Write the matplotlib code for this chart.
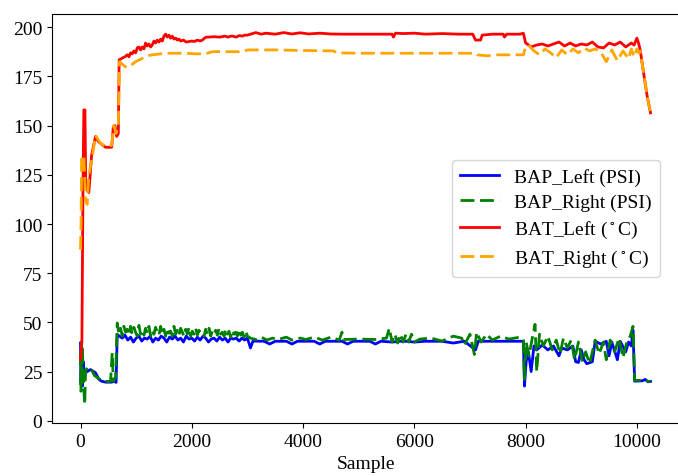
import matplotlib
matplotlib.use("Agg")
import matplotlib.pyplot as plt

plt.rcParams["font.family"] = ["Liberation Serif", "DejaVu Serif"]
plt.rcParams["font.size"] = 14
plt.rcParams["mathtext.fontset"] = "stix"

# BAT_Left (red), sample index / value pairs
bat_left_x = [0, 25, 45, 60, 80, 95, 150, 200, 270, 320, 360, 450, 560, 590, 620, 650, 680,
              695, 730, 760, 800, 840, 870, 900, 930, 960, 990, 1020, 1050, 1080, 1110, 1140,
              1170, 1200, 1230, 1260, 1290, 1320, 1350, 1380, 1410, 1440, 1470, 1500, 1530, 1560,
              1590, 1620, 1650, 1680, 1710, 1740, 1770, 1800, 1850, 1900, 1940, 2000, 2050, 2100,
              2150, 2190, 2230, 2260, 2300, 2400, 2500, 2600, 2650, 2700, 2730, 2800, 2850, 2910,
              2950, 3000,
              3150, 3250, 3330, 3500, 3650, 3800, 3950, 4100, 4300, 4500, 4700, 5000, 5300, 5600,
              5625, 5660, 5800, 6000, 6200, 6500, 6800, 7050, 7100, 7190, 7220, 7400, 7600, 7620,
              7660, 7900, 7960, 8000, 8030, 8100, 8200, 8300, 8400, 8500, 8600, 8700, 8800, 8900,
              9000, 9100, 9200, 9300, 9400, 9500, 9600, 9700, 9800, 9900, 9950, 10000, 10030,
              10060, 10120, 10185, 10245]
bat_left_y = [31, 40, 120, 158, 158, 118, 116, 135, 144.5, 142, 141, 139, 139, 149.5, 150, 144.5,
              146,
              183.5, 184, 184.5, 185, 186, 185, 187, 186.5, 188, 187, 189.5, 190, 188.5, 190, 189,
              192, 190.5, 191.5, 190, 191, 193, 192, 193.5, 192.5, 194, 193, 195.5, 196.5, 195,
              196, 194.5, 195.5, 194, 194.5, 193.5, 194, 193, 193.5, 192.5, 192.7, 193, 192.8,
              193.5, 193, 193.5, 194.5, 195, 195, 195.2, 195, 195.5, 195, 195.5, 195.5, 195,
              195.8, 195.5, 196, 196,
              197.3, 196.5, 197, 196.5, 197.3, 196.6, 197.2, 196.6, 197, 196.6, 196.5, 196.5,
              196.5, 196.5, 195, 197, 196.8, 197, 196.5, 196.8, 196.5, 196.5, 193.5, 193.5, 196,
              196.5, 196.5, 195, 196.5, 196.5, 197, 192, 191.5, 190, 191, 191.5, 190.5, 191.5,
              192.5, 190.5, 192, 190.5, 191.5, 191, 192.5, 190, 189.5, 192, 191, 192.5, 190, 192,
              191, 194.5, 192, 188.5, 177, 165, 156.5]

# BAT_Right (orange)
bat_right_x = [0, 10, 20, 35, 60, 90, 120, 150, 200, 270, 360, 450, 560, 600, 640, 680, 700, 760,
               830, 900, 990, 1100, 1200, 1290, 1450, 1590, 1890, 2070, 2250, 2370, 2850, 3020,
               3330, 3500, 4000, 4550, 4600, 5000, 5600, 6000, 6500, 7100, 7130, 7300, 7500, 7960,
               8000, 8050, 8150, 8250, 8350, 8450, 8550, 8650, 8750, 8850, 8950, 9050, 9150, 9250,
               9350, 9450, 9550, 9650, 9750, 9850, 9900, 9950, 10000, 10030, 10060, 10120, 10185,
               10245]
bat_right_y = [87, 100, 133, 128, 135, 112, 110, 125, 132, 145, 141, 139.5, 140, 150, 146, 150,
               182.5, 181, 179.5, 180.5, 182.5, 184, 185.5, 186, 186.5, 186.8, 186.8, 186.5, 186.5,
               187.6, 187.6, 188.5, 188.5, 188.5, 188.2, 188, 187, 186.8, 186.8, 186.8, 186.8,
               186.8, 186, 185.5, 186, 186, 190, 191, 188, 186, 189, 187, 184.5, 188.5, 186, 189,
               187, 189.5, 188, 189, 187.5, 182.5, 188.5, 183, 188, 184, 189, 185, 189, 187, 188,
               177, 165, 156.5]

# BAP_Left (blue)
bap_left_x = [0, 10, 20, 35, 50, 70, 90, 120, 180, 270, 330, 380, 450, 560, 600, 640,
              660, 700, 750, 800, 850, 900, 950, 1000, 1050, 1100, 1150, 1200, 1250, 1300, 1350,
              1400, 1450, 1500, 1550, 1600, 1650, 1700, 1750, 1800, 1850, 1900, 1950, 2000, 2050,
              2100, 2150, 2200, 2250, 2300, 2350, 2400, 2450, 2500, 2550, 2600, 2650, 2700, 2750,
              2800, 2850, 2900, 2950, 3000,
              3055, 3100, 3300, 3400, 3500, 3700, 3800, 3900, 4200, 4300, 4400, 4700, 4800, 4900,
              5200, 5300, 5400, 5600, 5800, 6000, 6200, 6500, 6700, 6900, 7100, 7150, 7400, 7600,
              7960, 7980, 8010, 8050, 8100, 8150, 8200, 8300, 8400, 8500, 8600, 8650, 8750, 8850,
              8900, 8950, 9000, 9050, 9100, 9200, 9250, 9350, 9450, 9500, 9550, 9650, 9700, 9800,
              9850, 9900, 9930, 9960, 10100, 10150, 10200, 10245]
bap_left_y = [39.5, 20, 36, 17.6, 30, 22, 24.4, 25, 26, 24.4, 21, 20.1, 19.6, 19.6, 20, 19.5,
              43.8, 43, 42, 43.5, 41, 42.5, 40, 42, 43, 40.5, 42, 41.5, 43, 40, 42, 41, 43, 42,
              40, 42.5, 41.5, 43, 41, 42, 40, 43, 41.5, 42, 40.5, 42.5, 41, 43, 42, 40, 41.5, 42,
              40.5, 42.5, 41, 42, 40, 42, 41.5, 42, 40.5, 42, 41, 42,
              37, 40.5, 40.4, 39, 40.4, 40.4, 39, 40.4, 40.4, 39, 40.4, 40.4, 39, 40.4, 40.4, 39,
              40.4, 40, 40.5, 40, 40.4, 40.4, 39.5, 40.4, 36, 40.4, 40.4, 40.4, 40.4, 17.6, 30,
              35, 25, 38, 36, 38.5, 36, 38, 33, 37, 36, 38, 30, 29.6, 36, 31, 29, 30, 40.4, 39,
              40.4, 33, 40, 31, 40.4, 35, 40, 38, 46, 20.1, 20.3, 21, 19.8, 20]

# BAP_Right (green)
bap_right_x = [0, 8, 15, 25, 35, 50, 77, 90, 120, 180, 250, 300, 380, 450, 540, 570, 590, 630,
               660, 690, 720, 750, 780, 810, 840, 870, 900, 930, 960, 990, 1020, 1050, 1080, 1110,
               1140, 1170, 1200, 1230, 1260, 1290, 1320, 1350, 1380, 1410, 1440, 1470, 1500, 1530,
               1560, 1590, 1620, 1650, 1680, 1710, 1740, 1770, 1800, 1830, 1860, 1890, 1920, 1950,
               1980, 2010, 2040, 2070, 2100, 2130, 2160, 2190, 2220, 2250, 2280, 2310, 2340, 2370,
               2400, 2430, 2460, 2490, 2520, 2550, 2580, 2610, 2640, 2670, 2700, 2730, 2760, 2790,
               2820, 2850, 2880, 2910, 2940, 2970, 3000,
               3055, 3150, 3250, 3350, 3450, 3550, 3700, 3800, 3950, 4050, 4200, 4350,
               4500, 4650, 4700, 4720, 5000, 5300, 5500, 5550, 5600, 5650, 5700, 5750, 5800, 5850,
               5900, 5950, 6000, 6100, 6300, 6500, 6700, 6850, 6900, 7000, 7080, 7120, 7200, 7300,
               7400, 7550, 7700, 7900, 7960, 7980, 8010, 8060, 8120, 8170, 8200, 8250, 8320, 8400,
               8480, 8550, 8620, 8680, 8750, 8820, 8880, 8950, 9020, 9080, 9150, 9250, 9320, 9400,
               9450, 9520, 9600, 9680, 9750, 9820, 9880, 9930, 9960, 10050, 10120, 10200, 10245]
bap_right_y = [35, 15, 40, 18, 38, 20, 8.3, 25, 27, 27, 23, 22, 20.5, 20, 20, 34.5, 20, 22,
               49.7, 44, 47, 43, 48, 45, 46.5, 43.5, 48, 44, 47.5, 45, 43, 48.5, 44, 46, 43.5, 47,
               44.5, 48, 43, 46, 44, 47.5, 45, 43.5, 48, 44, 46.5, 43, 47, 44.5, 45.5, 43, 48, 44,
               46, 43.5, 47, 45, 43, 46.5, 44, 47.5, 43, 45.5, 44, 47, 43.5, 46, 44.5, 45, 43,
               46.5, 44, 47, 43, 45.5, 44, 46, 43.5, 47, 44, 45, 43, 46.5, 44, 45.5, 42.5, 46, 44,
               45, 43, 46.5, 43.5, 45, 42.5, 45.5, 43,
               42, 41.3, 42.5, 41, 42, 41.3, 42.5, 41, 42, 41.3, 42.5, 41, 42.5, 41, 45, 41.3,
               41.5, 41.3, 42, 47, 40, 44, 39.5, 44, 40, 44, 40, 44, 40, 41.5, 42, 40.5, 43, 42,
               38.5, 44, 33.7, 45, 40, 44, 41, 43, 41.5, 42.5, 41, 21, 40, 33, 42, 49, 25, 44, 38,
               43, 36, 41, 34, 42, 37, 41, 31, 40, 30, 35, 29, 41, 34, 40, 31, 41, 35, 42, 32, 40,
               43, 48, 20.5, 20.5, 21, 20, 20]

fig = plt.figure(figsize=(6.78, 4.77), dpi=100)
ax = fig.add_axes([52 / 678, 53 / 477, 627 / 678, 409 / 477])

ax.plot(bap_left_x, bap_left_y, color="blue", linewidth=2, label="BAP_Left (PSI)")
ax.plot(bap_right_x, bap_right_y, color="green", linewidth=2, linestyle=(0, (5, 2)),
        label="BAP_Right (PSI)")
ax.plot(bat_left_x, bat_left_y, color="red", linewidth=2,
        label=r"BAT_Left ($\,^{\circ}\,$C)")
ax.plot(bat_right_x, bat_right_y, color="orange", linewidth=2, linestyle=(0, (5, 2)),
        label=r"BAT_Right ($\,^{\circ}\,$C)")

ax.set_xlabel("Sample")
ax.set_yticks([0, 25, 50, 75, 100, 125, 150, 175, 200])
ax.legend(loc="center right", borderaxespad=1.0, labelspacing=0.4)

fig.savefig("out.png", dpi=100)
